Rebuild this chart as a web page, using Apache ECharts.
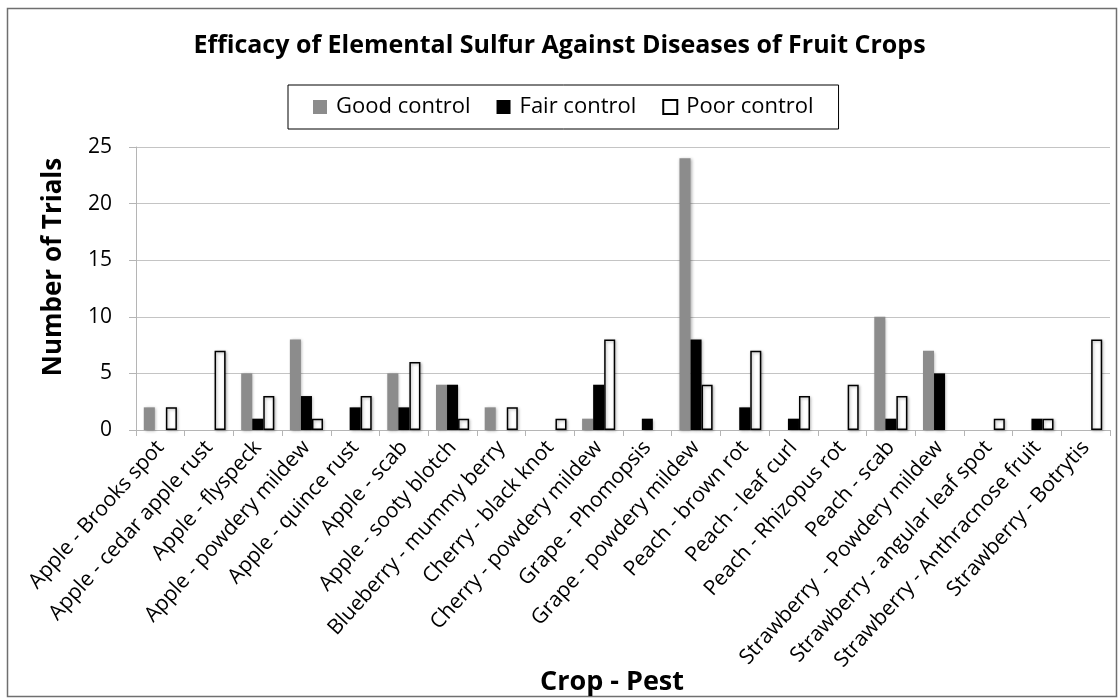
<!DOCTYPE html>
<html>
<head>
<meta charset="utf-8">
<script src="https://cdn.jsdelivr.net/npm/echarts@6/dist/echarts.min.js"></script>
<style>
  html, body { margin: 0; padding: 0; background: #fff; }
  #chart { width: 1119px; height: 700px; }
</style>
</head>
<body>
<div id="chart"></div>
<script>
const categories = [
  'Apple - Brooks spot', 'Apple - cedar apple rust', 'Apple - flyspeck',
  'Apple - powdery mildew', 'Apple - quince rust', 'Apple - scab',
  'Apple - sooty blotch', 'Blueberry - mummy berry', 'Cherry - black knot',
  'Cherry - powdery mildew', 'Grape - Phomopsis', 'Grape - powdery mildew',
  'Peach - brown rot', 'Peach - leaf curl', 'Peach - Rhizopus rot',
  'Peach - scab', 'Strawberry  - Powdery mildew', 'Strawberry - angular leaf spot',
  'Strawberry - Anthracnose fruit', 'Strawberry - Botrytis'
]
const goodControl = [2, 0, 5, 8, 0, 5, 4, 2, 0, 1, 0, 24, 0, 0, 0, 10, 7, 0, 0, 0]
const fairControl = [0, 0, 1, 3, 2, 2, 4, 0, 0, 4, 1, 8, 2, 1, 0, 1, 5, 0, 1, 0]
const poorControl = [2, 7, 3, 1, 3, 6, 1, 2, 1, 8, 0, 4, 7, 3, 4, 3, 0, 1, 1, 8]

const font = '"Open Sans", "Liberation Sans", sans-serif'
const shadow = { shadowBlur: 3, shadowColor: 'rgba(0,0,0,0.3)', shadowOffsetX: 1, shadowOffsetY: 1 }

// zero bars draw nothing (no border sliver)
function bars(values) {
  return values.map((v) => (v === 0 ? { value: 0, itemStyle: { borderWidth: 0, shadowBlur: 0, shadowOffsetX: 0, shadowOffsetY: 0 } } : v))
}

const chart = echarts.init(document.getElementById('chart'))

chart.setOption({
  backgroundColor: '#fff',
  animation: false,
  textStyle: { fontFamily: font },
  graphic: [
    {
      type: 'rect',
      shape: { x: 7.5, y: 8.5, width: 1109, height: 688 },
      style: { fill: 'none', stroke: '#6f6f6f', lineWidth: 1.5 },
      silent: true,
    },
    {
      type: 'text',
      x: 54,
      y: 267,
      rotation: Math.PI / 2,
      style: {
        text: 'Number of Trials',
        font: 'bold 26px ' + font,
        fill: '#000',
        align: 'center',
        verticalAlign: 'middle',
      },
      silent: true,
    },
  ],
  title: {
    text: 'Efficacy of Elemental Sulfur Against Diseases of Fruit Crops',
    left: 'center',
    top: 28,
    textStyle: { fontFamily: font, fontSize: 25, fontWeight: 'bold', color: '#000' },
  },
  legend: {
    top: 85,
    left: 288,
    padding: [11, 25, 11, 25],
    borderColor: '#000',
    borderWidth: 1,
    itemWidth: 14,
    itemHeight: 14,
    itemGap: 26,
    icon: 'rect',
    textStyle: { fontFamily: font, fontSize: 22, color: '#000', padding: [0, 0, 0, 4] },
  },
  grid: { left: 136, right: 9, top: 147, bottom: 270, outerBoundsMode: 'none' },
  xAxis: {
    type: 'category',
    data: categories,
    name: 'Crop - Pest',
    nameLocation: 'middle',
    nameGap: 252,
    nameMoveOverlap: false,
    nameTextStyle: {
      fontFamily: font, fontSize: 27, fontWeight: 'bold', color: '#000',
      verticalAlign: 'middle', padding: [0, 22, 0, 0],
    },
    axisLine: { lineStyle: { color: '#b5b5b5', width: 1 } },
    axisTick: { show: true, length: 6, lineStyle: { color: '#b5b5b5' } },
    axisLabel: { rotate: 48, interval: 0, margin: 14, fontSize: 21, color: '#000', fontFamily: font },
  },
  yAxis: {
    type: 'value',
    min: 0,
    max: 25,
    interval: 5,
    axisLine: { show: true, lineStyle: { color: '#b5b5b5' } },
    axisTick: { show: true, length: 7, lineStyle: { color: '#b5b5b5' } },
    splitLine: { lineStyle: { color: '#c4c4c4', width: 1 } },
    axisLabel: { fontSize: 21, color: '#000', margin: 24, fontFamily: font },
  },
  series: [
    {
      name: 'Good control',
      type: 'bar',
      data: bars(goodControl),
      barGap: '0%',
      barCategoryGap: '32%',
      itemStyle: Object.assign({ color: '#8c8c8c' }, shadow),
    },
    {
      name: 'Fair control',
      type: 'bar',
      data: bars(fairControl),
      barGap: '0%',
      barCategoryGap: '32%',
      itemStyle: Object.assign({ color: '#000' }, shadow),
    },
    {
      name: 'Poor control',
      type: 'bar',
      data: bars(poorControl),
      barGap: '0%',
      barCategoryGap: '32%',
      itemStyle: Object.assign({ color: '#fff', borderColor: '#000', borderWidth: 1.5 }, shadow),
    },
  ],
})
</script>
</body>
</html>
